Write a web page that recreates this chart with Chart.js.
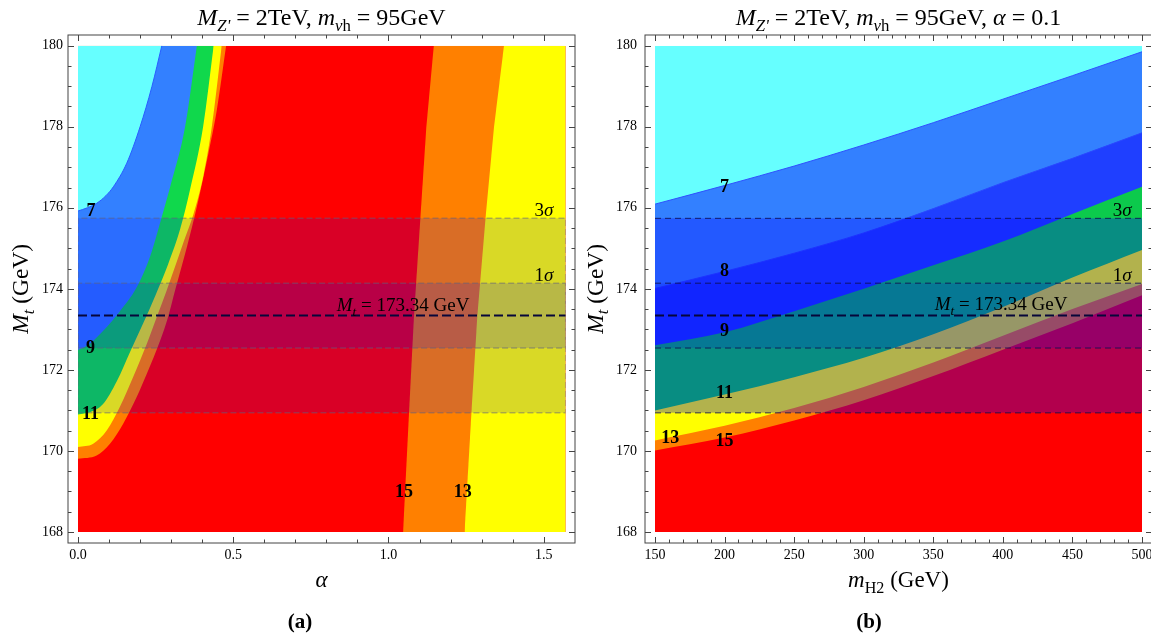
<!DOCTYPE html>
<html>
<head>
<meta charset="utf-8">
<script src="https://cdn.jsdelivr.net/npm/chart.js@4.4.1/dist/chart.umd.min.js"></script>
<style>
  html, body { margin: 0; padding: 0; background: #fff; }
  body { width: 1151px; height: 635px; overflow: hidden; position: relative; }
  #wrapA { position: absolute; left: 0; top: 0; width: 580px; height: 635px; }
  #wrapB { position: absolute; left: 580px; top: 0; width: 600px; height: 635px; }
</style>
</head>
<body>
<div id="wrapA"><canvas id="chartA" width="580" height="635"></canvas></div>
<div id="wrapB"><canvas id="chartB" width="600" height="635"></canvas></div>
<script>
// ===== panel (a): Mt vs alpha, panel (b): Mt vs mH2 =====
const SERIF = "'Liberation Serif', 'DejaVu Serif', serif";

// axes
const alphaMax = 1.5708;
const alphaTicks = [0, 0.5, 1.0, 1.5];
const alphaMinor = [0, 0.1, 0.2, 0.3, 0.4, 0.5, 0.6, 0.7, 0.8, 0.9, 1.0, 1.1, 1.2, 1.3, 1.4, 1.5];
const mhTicks = [150, 200, 250, 300, 350, 400, 450, 500];
const mhMinor = [150, 160, 170, 180, 190, 200, 210, 220, 230, 240, 250, 260, 270, 280, 290, 300, 310, 320,
  330, 340, 350, 360, 370, 380, 390, 400, 410, 420, 430, 440, 450, 460, 470, 480, 490, 500];
const mtTicks = [168, 170, 172, 174, 176, 178, 180];
const mtMinor = [168, 168.5, 169, 169.5, 170, 170.5, 171, 171.5, 172, 172.5, 173, 173.5, 174, 174.5,
  175, 175.5, 176, 176.5, 177, 177.5, 178, 178.5, 179, 179.5, 180];

// top mass measurement
const mtCentral = 173.34;
const band1 = [172.54, 174.14];
const band3 = [170.94, 175.74];

// panel (a) contours, left side (alpha, Mt)
const a7Alpha = [0, 0.03, 0.06, 0.09, 0.114, 0.157, 0.2, 0.238, 0.27];
const a7Mt = [175.92, 176.0, 176.11, 176.3, 176.52, 177.1, 178.0, 178.99, 180];
const a9Alpha = [0, 0.03, 0.06, 0.13, 0.19, 0.232, 0.27, 0.297, 0.345, 0.383];
const a9Mt = [172.49, 172.6, 172.8, 173.4, 174.05, 174.79, 175.78, 176.52, 178, 180];
const a11Alpha = [0, 0.04, 0.08, 0.125, 0.168, 0.21, 0.25, 0.29, 0.33, 0.361, 0.403, 0.437];
const a11Mt = [170.9, 170.96, 171.15, 171.72, 172.45, 173.15, 173.85, 174.6, 175.5, 176.45, 178.0, 180];
const a13Alpha = [0, 0.049, 0.093, 0.135, 0.178, 0.222, 0.254, 0.285, 0.315, 0.342, 0.372, 0.404, 0.431, 0.463];
const a13Mt = [170.1, 170.18, 170.51, 171.09, 171.83, 172.65, 173.31, 173.95, 174.6, 175.2, 175.85, 176.8, 178.0, 180];
const a15Alpha = [0, 0.06, 0.103, 0.146, 0.189, 0.222, 0.265, 0.29, 0.313, 0.351, 0.383, 0.42, 0.447, 0.477];
const a15Mt = [169.81, 169.89, 170.18, 170.68, 171.33, 171.91, 172.73, 173.3, 173.97, 175.04, 176.03, 177.34, 178.41, 180];
// panel (a) contours, right side
const aRightMt = [168, 170.92, 173.31, 175.78, 178, 180];
const a15RAlpha = [1.047, 1.066, 1.082, 1.103, 1.122, 1.146];
const a13RAlpha = [1.245, 1.267, 1.286, 1.313, 1.34, 1.372];

// panel (b) contours (Mt at each mH2)
const mh = [150, 200, 250, 300, 350, 400, 450, 500];
const b7 = [176.09, 176.55, 177.03, 177.55, 178.10, 178.68, 179.26, 179.85];
const b8 = [174.01, 174.43, 174.88, 175.38, 175.98, 176.62, 177.22, 177.85];
const b9 = [172.61, 172.93, 173.45, 174.0, 174.58, 175.17, 175.85, 176.52];
const b11 = [171.0, 171.39, 171.82, 172.30, 172.88, 173.55, 174.28, 174.96];
const b13 = [170.26, 170.62, 171.06, 171.58, 172.18, 172.84, 173.5, 174.12];
const b15 = [170.01, 170.33, 170.75, 171.25, 171.85, 172.5, 173.15, 173.84];

// contour labels
const aLabelText = ['7', '9', '11', '15', '13'];
const aLabelAlpha = [0.042, 0.040, 0.040, 1.050, 1.239];
const aLabelMt = [175.92, 172.52, 170.91, 168.99, 168.99];
const bLabelText = ['7', '8', '9', '11', '13', '15'];
const bLabelMh = [200, 200, 200, 200, 161, 200];
const bLabelMt = [176.51, 174.42, 172.94, 171.41, 170.31, 170.23];

const cCyan = '#66ffff', cLightBlue = '#3380ff', cBlue = '#1f3fff';
const cGreenA = '#10d84c', cGreenB = '#0cca4c';
const cYellow = '#ffff00', cOrange = '#ff8000', cRed = '#ff0000';

function pts(xs, ys) { return xs.map((x, i) => ({x, y: ys[i]})); }
function flat(x0, x1, y) { return [{x: x0, y}, {x: x1, y}]; }

function region(data, color, fill, edge, smooth) {
  return {data, backgroundColor: color, fill, pointRadius: 0,
    borderColor: edge || 'transparent', borderWidth: edge ? 1 : 0,
    cubicInterpolationMode: smooth ? 'monotone' : 'default', tension: 0};
}
function dashed(data, color, width, dash) {
  return {data, borderColor: color, borderWidth: width, borderDash: dash, fill: false,
    pointRadius: 0, backgroundColor: 'transparent', tension: 0};
}
// first in list = painted first (bottom)
function stack(list) { list.forEach((d, i) => { d.order = list.length - i; }); return list; }

function drawRich(ctx, parts, x, y, size, align) {
  const sub = size * 0.7;
  const fontFor = s => (s.includes('b') ? 'bold ' : '') + (s.includes('i') ? 'italic ' : '') +
    (s.includes('s') ? sub : size) + 'px ' + SERIF;
  let w = 0;
  parts.forEach(([t, s]) => { ctx.font = fontFor(s); w += ctx.measureText(t).width; });
  let cx = align === 'center' ? x - w / 2 : align === 'right' ? x - w : x;
  ctx.textAlign = 'left';
  ctx.textBaseline = 'alphabetic';
  parts.forEach(([t, s]) => {
    ctx.font = fontFor(s);
    ctx.fillText(t, cx, s.includes('s') ? y + size * 0.25 : y);
    cx += ctx.measureText(t).width;
  });
}

function makeDeco(cfg) {
  return {
    id: 'deco',
    afterDatasetsDraw(chart) {
      const {ctx, scales: {x, y}} = chart;
      ctx.save();
      ctx.fillStyle = '#000';
      ctx.font = 'bold 18px ' + SERIF;
      ctx.textAlign = 'center';
      ctx.textBaseline = 'middle';
      cfg.labels.forEach((t, i) => ctx.fillText(t, x.getPixelForValue(cfg.labelX[i]), y.getPixelForValue(cfg.labelY[i])));
      cfg.notes.forEach(n => drawRich(ctx, n.parts, x.getPixelForValue(n.x), y.getPixelForValue(n.y), 19, n.align));
      ctx.restore();
    },
    afterDraw(chart) {
      const {ctx, chartArea: a, scales: {x, y}} = chart;
      const p = cfg.pad;
      const f = {l: a.left - p.l, r: a.right + p.r, t: a.top - p.t, b: a.bottom + p.b};
      ctx.save();
      ctx.strokeStyle = '#444';
      ctx.lineWidth = 1;
      ctx.strokeRect(f.l, f.t, f.r - f.l, f.b - f.t);
      const seg = (x1, y1, x2, y2) => { ctx.beginPath(); ctx.moveTo(x1, y1); ctx.lineTo(x2, y2); ctx.stroke(); };
      const xt = (vals, len) => vals.forEach(v => { const px = Math.round(x.getPixelForValue(v)) + 0.5; seg(px, f.b, px, f.b - len); seg(px, f.t, px, f.t + len); });
      const yt = (vals, len) => vals.forEach(v => { const py = Math.round(y.getPixelForValue(v)) + 0.5; seg(f.l, py, f.l + len, py); seg(f.r, py, f.r - len, py); });
      xt(cfg.xMinor, 3.5); xt(cfg.xMajor, 6);
      yt(mtMinor, 3.5); yt(mtTicks, 6);

      ctx.fillStyle = '#000';
      const cx = (f.l + f.r) / 2;
      drawRich(ctx, cfg.title, cx, 25, 24, 'center');
      drawRich(ctx, cfg.xTitle, cx, 587, 23, 'center');
      ctx.save();
      ctx.translate(cfg.yTitleX, (a.top + a.bottom) / 2);
      ctx.rotate(-Math.PI / 2);
      drawRich(ctx, [['M', 'i'], ['t', 'is'], [' (GeV)', 'n']], 0, 0, 23.5, 'center');
      ctx.restore();
      drawRich(ctx, [[cfg.tag, 'b']], cfg.tagX, 628, 21, 'center');
      ctx.restore();
    }
  };
}

function scales(xMin, xMax, xTicks, xFmt, yWidth, yPad) {
  const font = {family: SERIF, size: 14};
  return {
    x: {type: 'linear', min: xMin, max: xMax, grid: {display: false}, border: {display: false},
      ticks: {padding: 7, color: '#000', font, maxRotation: 0, autoSkip: false, callback: xFmt},
      afterBuildTicks: s => { s.ticks = xTicks.map(v => ({value: v})); },
      afterFit: s => { s.height = 103; }},
    y: {type: 'linear', min: 168, max: 180, grid: {display: false}, border: {display: false},
      ticks: {padding: yPad, color: '#000', font, autoSkip: false, callback: v => String(v)},
      afterBuildTicks: s => { s.ticks = mtTicks.map(v => ({value: v})); },
      afterFit: s => { s.width = yWidth; }}
  };
}

const common = {
  responsive: false, animation: false, devicePixelRatio: 1, events: [],
  plugins: {legend: {display: false}, tooltip: {enabled: false}, title: {display: false}}
};

// ---- panel (a)
const mtNote = [['M', 'i'], ['t', 'is'], [' = 173.34 GeV', 'n']];
const dsA = stack([
  region(flat(0, alphaMax, 180), cRed, 'start'),
  region(pts(a15RAlpha, aRightMt).concat([{x: alphaMax, y: 180}]), cOrange, 'start'),
  region(pts(a13RAlpha, aRightMt).concat([{x: alphaMax, y: 180}]), cYellow, 'start'),
  region(pts(a15Alpha, a15Mt), cOrange, 'end', null, true),
  region(pts(a13Alpha, a13Mt), cYellow, 'end', null, true),
  region(pts(a11Alpha, a11Mt), cGreenA, 'end', null, true),
  region(pts(a9Alpha, a9Mt), cLightBlue, 'end', null, true),
  region(pts(a7Alpha, a7Mt), cCyan, 'end', '#2a5cff', true),
  region(flat(0, alphaMax, band3[1]), 'rgba(0,0,255,0.15)', {value: band3[0]}),
  region(flat(0, alphaMax, band1[1]), 'rgba(0,0,255,0.15)', {value: band1[0]}),
  dashed([{x: 0, y: band3[0]}, {x: 0, y: band3[1]}, {x: alphaMax, y: band3[1]}, {x: alphaMax, y: band3[0]}, {x: 0, y: band3[0]}],
    'rgba(95,95,125,0.45)', 1.5, [6, 3]),
  dashed([{x: 0, y: band1[0]}, {x: 0, y: band1[1]}, {x: alphaMax, y: band1[1]}, {x: alphaMax, y: band1[0]}, {x: 0, y: band1[0]}],
    'rgba(95,95,125,0.45)', 1.5, [6, 3]),
  dashed(flat(0, alphaMax, mtCentral), '#06063a', 2, [9, 4])
]);

new Chart(document.getElementById('chartA'), {
  type: 'line',
  data: {datasets: dsA},
  options: Object.assign({}, common, {
    layout: {padding: {left: 0, top: 45.7, right: 14.3, bottom: 0}},
    scales: scales(0, alphaMax, alphaTicks, v => v.toFixed(1), 78, 7)
  }),
  plugins: [makeDeco({
    pad: {l: 10, r: 9.3, t: 10.7, b: 11},
    xMajor: alphaTicks, xMinor: alphaMinor,
    title: [['M', 'i'], ["Z'", 'is'], [' = 2TeV, ', 'n'], ['m', 'i'], ['ν', 'is'], ['h', 'ns'], [' = 95GeV', 'n']],
    xTitle: [['α', 'i']],
    yTitleX: 28, tag: '(a)', tagX: 300,
    labels: aLabelText, labelX: aLabelAlpha, labelY: aLabelMt,
    notes: [
      {parts: [['3', 'n'], ['σ', 'i']], x: 1.531, y: 175.80, align: 'right'},
      {parts: [['1', 'n'], ['σ', 'i']], x: 1.531, y: 174.19, align: 'right'},
      {parts: mtNote, x: 1.047, y: 173.45, align: 'center'}
    ]
  })]
});

// ---- panel (b)
const navy = 'rgba(15,15,80,0.85)';
const dsB = stack([
  region(flat(150, 500, 180), cCyan, 'start'),
  region(pts(mh, b7), cLightBlue, 'start', '#3050ff', true),
  region(pts(mh, b8), cBlue, 'start', '#2a48ff', true),
  region(pts(mh, b9), cGreenB, 'start', null, true),
  region(pts(mh, b11), cYellow, 'start', null, true),
  region(pts(mh, b13), cOrange, 'start', null, true),
  region(pts(mh, b15), cRed, 'start', null, true),
  region(flat(150, 500, band3[1]), 'rgba(0,0,255,0.3)', {value: band3[0]}),
  region(flat(150, 500, band1[1]), 'rgba(0,0,255,0.15)', {value: band1[0]}),
  dashed(flat(150, 500, band3[0]), navy, 1, [6, 4]),
  dashed(flat(150, 500, band3[1]), navy, 1, [6, 4]),
  dashed(flat(150, 500, band1[0]), navy, 1, [6, 4]),
  dashed(flat(150, 500, band1[1]), navy, 1, [6, 4]),
  dashed(flat(150, 500, mtCentral), '#06063a', 2, [9, 4])
]);

new Chart(document.getElementById('chartB'), {
  type: 'line',
  data: {datasets: dsB},
  options: Object.assign({}, common, {
    layout: {padding: {left: 0, top: 45.7, right: 38, bottom: 0}},
    scales: scales(150, 500, mhTicks, v => String(v), 75, 10)
  }),
  plugins: [makeDeco({
    pad: {l: 10, r: 10, t: 10.7, b: 11},
    xMajor: mhTicks, xMinor: mhMinor,
    title: [['M', 'i'], ["Z'", 'is'], [' = 2TeV, ', 'n'], ['m', 'i'], ['ν', 'is'], ['h', 'ns'], [' = 95GeV, ', 'n'], ['α', 'i'], [' = 0.1', 'n']],
    xTitle: [['m', 'i'], ['H2', 'ns'], [' (GeV)', 'n']],
    yTitleX: 22.5, tag: '(b)', tagX: 289,
    labels: bLabelText, labelX: bLabelMh, labelY: bLabelMt,
    notes: [
      {parts: [['3', 'n'], ['σ', 'i']], x: 492.6, y: 175.80, align: 'right'},
      {parts: [['1', 'n'], ['σ', 'i']], x: 492.6, y: 174.19, align: 'right'},
      {parts: mtNote, x: 398.7, y: 173.48, align: 'center'}
    ]
  })]
});
</script>
</body>
</html>
